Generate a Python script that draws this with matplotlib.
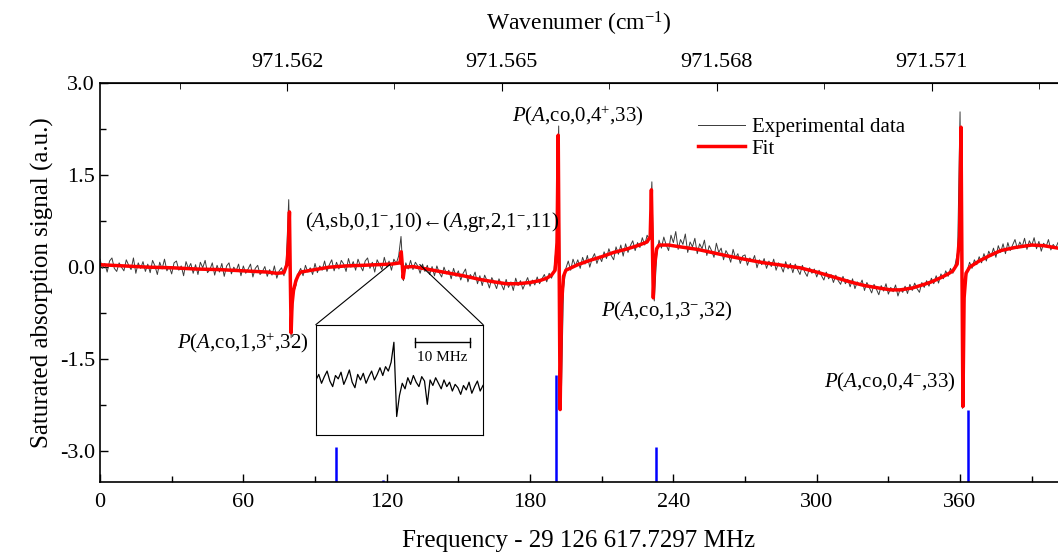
import numpy as np
import matplotlib
matplotlib.use("Agg")
import matplotlib.pyplot as plt
from matplotlib.ticker import MultipleLocator, FixedLocator, FormatStrFormatter

plt.rcParams['font.family'] = ['Liberation Serif', 'DejaVu Serif']
plt.rcParams['mathtext.fontset'] = 'custom'
plt.rcParams['mathtext.rm'] = 'Liberation Serif'
plt.rcParams['mathtext.it'] = 'Liberation Serif:italic'
plt.rcParams['axes.unicode_minus'] = False

# experimental trace, 1 MHz steps from 0 MHz
exp_start = 0.0
exp_step = 1.0
exp_signal = [
    0.13, -0.02, 0.06, -0.08, 0.10, 0.15, -0.02, -0.07, 0.07, 0.00,
    -0.06, 0.12, 0.03, -0.04, 0.15, -0.10, 0.07, -0.02, 0.09, -0.07,
    0.05, -0.09, 0.11, 0.02, -0.12, 0.08, -0.03, 0.13, -0.06, 0.01,
    -0.11, 0.07, 0.10, -0.05, 0.02, -0.14, 0.09, -0.02, 0.06, -0.10,
    0.04, -0.12, 0.08, -0.01, 0.11, -0.09, -0.04, 0.07, -0.13, 0.03,
    -0.08, 0.06, -0.15, 0.02, 0.07, -0.11, 0.00, -0.06, 0.05, -0.14,
    0.02, -0.10, -0.03, 0.05, -0.16, -0.02, 0.03, -0.12, -0.07, 0.01,
    -0.15, -0.04, -0.13, 0.02, -0.18, -0.06, -0.01, -0.14, 0.12, 1.10,
    -1.15, -0.40, -0.30, -0.10, -0.02, -0.14, 0.03, -0.08, -0.01, -0.12,
    0.06, -0.09, 0.02, -0.05, 0.10, -0.07, 0.04, 0.12, -0.06, 0.08,
    -0.03, 0.11, 0.05, -0.07, 0.14, 0.00, 0.09, -0.05, 0.13, 0.02,
    -0.06, 0.10, 0.15, -0.02, 0.08, -0.08, 0.12, 0.04, -0.04, 0.16,
    0.01, 0.10, -0.05, 0.13, 0.06, 0.18, 0.50, -0.22, 0.07, -0.03,
    0.11, -0.04, 0.08, 0.02, -0.10, 0.05, -0.07, 0.03, -0.12, 0.01,
    -0.14, 0.02, -0.09, -0.16, 0.00, -0.11, -0.05, -0.19, -0.02, -0.15,
    -0.06, -0.21, -0.10, -0.03, -0.24, -0.12, -0.18, -0.08, -0.27, -0.14,
    -0.30, -0.13, -0.22, -0.34, -0.17, -0.25, -0.35, -0.19, -0.28, -0.37,
    -0.20, -0.33, -0.24, -0.38, -0.18, -0.30, -0.22, -0.36, -0.26, -0.17,
    -0.31, -0.21, -0.29, -0.16, -0.27, -0.19, -0.12, -0.24, -0.10, -0.18,
    -0.06, 0.35, 2.30, -2.30, -0.35, -0.02, 0.10, -0.05, 0.13, 0.02,
    0.12, -0.02, 0.16, 0.05, 0.19, 0.00, 0.14, 0.22, 0.06, 0.18,
    0.09, 0.25, 0.14, 0.30, 0.19, 0.12, 0.33, 0.21, 0.36, 0.18,
    0.38, 0.24, 0.35, 0.43, 0.27, 0.40, 0.32, 0.48, 0.36, 0.52,
    0.45, 1.39, -0.55, 0.18, 0.44, 0.31, 0.49, 0.36, 0.27, 0.52,
    0.40, 0.58, 0.29, 0.45, 0.37, 0.54, 0.24, 0.41, 0.33, 0.47,
    0.22, 0.38, 0.30, 0.44, 0.19, 0.35, 0.27, 0.16, 0.39, 0.24,
    0.31, 0.12, 0.27, 0.20, 0.08, 0.29, 0.15, 0.22, 0.06, 0.18,
    0.20, 0.03, 0.15, 0.09, 0.19, -0.01, 0.12, 0.04, 0.14, -0.02,
    0.10, 0.01, 0.13, -0.05, 0.07, 0.02, -0.08, 0.09, -0.03, 0.06,
    -0.09, 0.05, -0.04, -0.12, 0.03, -0.08, -0.15, -0.01, -0.10, -0.03,
    -0.16, -0.05, -0.14, -0.21, -0.08, -0.19, -0.12, -0.25, -0.13, -0.22,
    -0.28, -0.15, -0.27, -0.20, -0.32, -0.19, -0.35, -0.24, -0.30, -0.21,
    -0.38, -0.25, -0.33, -0.42, -0.28, -0.36, -0.45, -0.30, -0.39, -0.27,
    -0.44, -0.33, -0.40, -0.29, -0.47, -0.35, -0.41, -0.31, -0.43, -0.28,
    -0.38, -0.26, -0.35, -0.41, -0.25, -0.33, -0.22, -0.31, -0.18, -0.27,
    -0.14, -0.26, -0.11, -0.19, -0.06, -0.15, -0.02, -0.10, 0.05, 0.25,
    2.53, -2.30, -0.35, -0.06, 0.08, -0.02, 0.12, 0.04, 0.17, 0.07,
    0.22, 0.10, 0.26, 0.18, 0.31, 0.16, 0.35, 0.24, 0.38, 0.22,
    0.40, 0.27, 0.36, 0.45, 0.30, 0.41, 0.33, 0.47, 0.29, 0.43,
    0.35, 0.48, 0.30, 0.42, 0.26, 0.39, 0.33, 0.45, 0.28, 0.37,
    0.31, 0.40,
]

fit_freq = [0, 10, 20, 30, 40, 50, 60, 70, 74, 77, 78.3, 78.9, 79.3, 79.6, 80.0,
            80.4, 81, 82, 83, 84, 90, 96, 103, 110, 116, 122, 125.6, 126.1, 126.5,
            126.9, 127.5, 131, 138, 145, 152, 159, 165, 170, 175, 180, 184, 187,
            189, 190.5, 191.3, 191.8, 192.2, 192.6, 193.2, 194, 195, 200, 205, 210,
            215, 220, 225, 229, 230.3, 230.8, 231.2, 231.6, 232.1, 233, 234, 238,
            243, 250, 256, 263, 271, 278, 284, 289, 293, 300, 307, 314, 320, 326,
            331, 335, 340, 345, 348, 352, 355, 357, 358.8, 359.8, 360.4, 360.8,
            361.2, 361.7, 362.5, 364, 368, 372, 377, 383, 390, 395, 401]
fit_signal = [0.04, 0.02, 0.0, -0.01, -0.03, -0.04, -0.06, -0.08, -0.10, -0.09, 0.05,
              0.4, 0.90, 0.0, -1.07, -0.6, -0.38, -0.22, -0.13, -0.08, -0.04, 0.0,
              0.02, 0.03, 0.04, 0.05, 0.07, 0.25, 0.05, -0.18, 0.0, 0.01, -0.04,
              -0.09, -0.14, -0.20, -0.24, -0.27, -0.27, -0.25, -0.22, -0.18, -0.13,
              -0.05, 0.4, 2.15, 0.0, -2.32, -0.6, -0.15, -0.05, 0.04, 0.11, 0.17,
              0.24, 0.29, 0.35, 0.41, 0.5, 1.26, 0.4, -0.50, 0.0, 0.30, 0.36, 0.36,
              0.33, 0.29, 0.24, 0.18, 0.12, 0.07, 0.04, 0.01, -0.01, -0.08, -0.16,
              -0.24, -0.30, -0.34, -0.37, -0.37, -0.34, -0.28, -0.24, -0.17, -0.11,
              -0.06, 0.05, 0.5, 2.28, 0.0, -2.27, -0.5, -0.1, 0.0, 0.1, 0.18, 0.27,
              0.32, 0.36, 0.35, 0.31]

# calculated line positions (stick spectrum)
stick_freq = [98.7, 118.4, 190.8, 232.6, 363.2]
stick_top = [-2.93, -3.46, -1.75, -2.93, -2.32]

# zoomed trace shown in the inset (MHz, arbitrary units)
inset_start = 0.0
inset_step = 0.5
inset_signal = [
    0.50, 0.55, 0.47, 0.53, 0.58, 0.49, 0.44, 0.54, 0.51, 0.57,
    0.46, 0.52, 0.59, 0.48, 0.43, 0.55, 0.50, 0.56, 0.47, 0.53,
    0.58, 0.50, 0.55, 0.61, 0.54, 0.62, 0.58, 0.66, 0.84, 0.17,
    0.36, 0.47, 0.42, 0.52, 0.46, 0.54, 0.48, 0.44, 0.53, 0.49,
    0.28, 0.50, 0.45, 0.52, 0.47, 0.42, 0.50, 0.44, 0.48, 0.40,
    0.46, 0.43, 0.37, 0.45, 0.41, 0.48, 0.38, 0.44, 0.49, 0.40,
    0.45,
]

labels = [
    (r"$\mathit{P}$($\mathit{A}$,co,1,3$^{+}$,32)", 59.8, -1.23),
    (r"($\mathit{A}$,sb,0,1$^{-}$,10)←($\mathit{A}$,gr,2,1$^{-}$,11)", 138.9, 0.74),
    (r"$\mathit{P}$($\mathit{A}$,co,0,4$^{+}$,33)", 200.0, 2.46),
    (r"$\mathit{P}$($\mathit{A}$,co,1,3$^{-}$,32)", 237.2, -0.72),
    (r"$\mathit{P}$($\mathit{A}$,co,0,4$^{-}$,33)", 330.5, -1.88),
]

exp_freq = exp_start + exp_step * np.arange(len(exp_signal))
inset_freq = inset_start + inset_step * np.arange(len(inset_signal))

fig = plt.figure(figsize=(10.58, 5.52), dpi=100)
ax = fig.add_axes([100 / 1058, 70 / 552, 958 / 1058, 399 / 552])

ax.plot(exp_freq, exp_signal, color='#3a3a3a', lw=0.7, label='Experimental data')
ax.plot(fit_freq, fit_signal, color='red', lw=2.5, label='Fit')
ax.vlines(stick_freq, -3.5, stick_top, color='blue', lw=1.8)

ax.set_xlim(0, 401)
ax.set_ylim(-3.5, 3.0)
ax.xaxis.set_major_locator(MultipleLocator(60))
ax.xaxis.set_minor_locator(MultipleLocator(30))
ax.yaxis.set_major_locator(FixedLocator([-3.0, -1.5, 0.0, 1.5, 3.0]))
ax.yaxis.set_minor_locator(MultipleLocator(0.75))
ax.yaxis.set_major_formatter(FormatStrFormatter('%.1f'))
ax.tick_params(which='both', direction='in', labelsize=16, width=1)
ax.tick_params(which='major', length=6)
ax.tick_params(which='minor', length=4)
ax.tick_params(axis='x', pad=8)
ax.spines['right'].set_visible(False)
for s in ['left', 'bottom', 'top']:
    ax.spines[s].set_linewidth(1.2)

ax.set_xlabel('Frequency - 29 126 617.7297 MHz', fontsize=18, labelpad=13)
ax.set_ylabel('Saturated absorption signal (a.u.)', fontsize=18, labelpad=4)


def f2w(f):
    return (np.asarray(f) + 29126617.7297) / 29979.2458


def w2f(w):
    return np.asarray(w) * 29979.2458 - 29126617.7297


top = ax.secondary_xaxis('top', functions=(f2w, w2f))
top.xaxis.set_major_locator(FixedLocator([971.562, 971.565, 971.568, 971.571]))
top.xaxis.set_minor_locator(FixedLocator([971.5605, 971.5635, 971.5665, 971.5695, 971.5725]))
top.xaxis.set_major_formatter(FormatStrFormatter('%.3f'))
top.tick_params(which='both', direction='in', labelsize=16, pad=8)
top.tick_params(which='major', length=6)
top.tick_params(which='minor', length=4)
top.set_xlabel(r'Wavenumer (cm$^{\mathregular{-1}}$)', fontsize=17, labelpad=16)

for txt, x, y in labels:
    ax.text(x, y, txt, fontsize=15, ha='center', va='center')

ax.legend(loc='upper left', bbox_to_anchor=(0.615, 0.935), frameon=False,
          fontsize=15, handlelength=2.3, handletextpad=0.3, labelspacing=0.1,
          borderaxespad=0)

# inset box with connector lines
box = [90.4, -2.74, 69.9, 1.805]
ins = ax.inset_axes(box, transform=ax.transData)
ins.plot(inset_freq, inset_signal, color='black', lw=0.9)
ins.set_xlim(0, 30)
ins.set_ylim(0, 1)
ins.set_xticks([])
ins.set_yticks([])
for s in ins.spines.values():
    s.set_linewidth(0.8)
ins.plot([17.8, 27.7], [0.84, 0.84], color='black', lw=1)
ins.plot([17.8, 17.8], [0.80, 0.88], color='black', lw=1)
ins.plot([27.7, 27.7], [0.80, 0.88], color='black', lw=1)
ins.text(22.75, 0.76, '10 MHz', fontsize=11, ha='center', va='top')
ax.plot([box[0], 121.3], [box[1] + box[3], 0.04], color='black', lw=0.8)
ax.plot([box[0] + box[2], 133.9], [box[1] + box[3], 0.04], color='black', lw=0.8)

fig.savefig('out.png', dpi=100)
